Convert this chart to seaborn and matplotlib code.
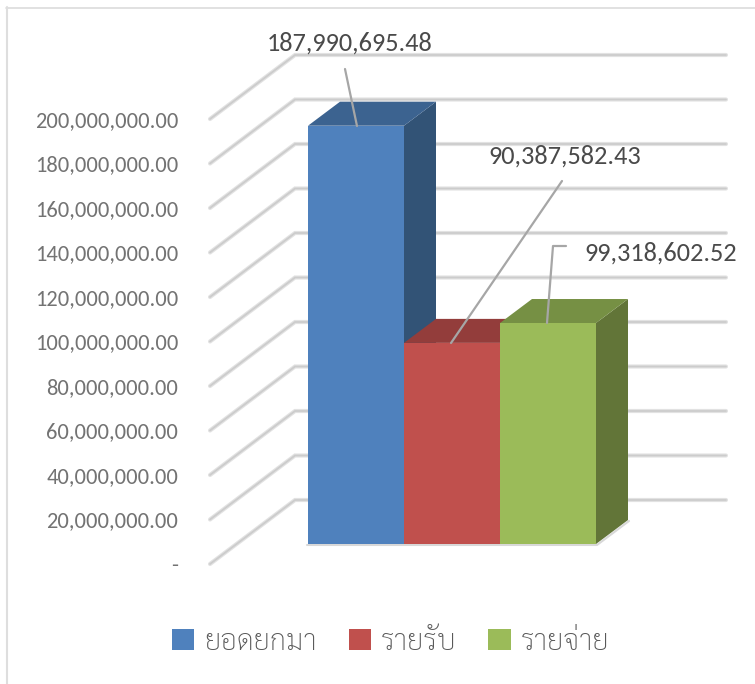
"""Fake-3D Thai column chart: brought forward, income, expense."""
import matplotlib
matplotlib.use('Agg')
import matplotlib.pyplot as plt
from matplotlib.patches import Patch, Polygon
from matplotlib.lines import Line2D
import pandas as pd
import seaborn as sns

categories = ['ยอดยกมา', 'รายรับ', 'รายจ่าย']
values = [187990695.48, 90387582.43, 99318602.52]
tick_values = [0, 20e6, 40e6, 60e6, 80e6, 100e6, 120e6, 140e6, 160e6, 180e6, 200e6]
tick_labels = ['-', '20,000,000.00', '40,000,000.00', '60,000,000.00', '80,000,000.00',
               '100,000,000.00', '120,000,000.00', '140,000,000.00', '160,000,000.00',
               '180,000,000.00', '200,000,000.00']
value_labels = ['187,990,695.48', '90,387,582.43', '99,318,602.52']
front_colors = ['#4f81bd', '#c0504d', '#9bbb59']
top_colors = ['#3c6390', '#933d3b', '#769044']
side_colors = ['#325376', '#7a3331', '#627538']

W, H = 755, 684
PX_PER_CAT = 96.0
PX_PER_UNIT = 445.0 / 200e6
BASE_X, BASE_Y = 308.0, 544.0

sns.set_theme(style='white')
plt.rcParams['font.family'] = ['Carlito', 'Sarabun', 'DejaVu Sans']


def xd(px):
    return -0.5 + (px - BASE_X) / PX_PER_CAT


def yd(px):
    return (BASE_Y - px) / PX_PER_UNIT


fig = plt.figure(figsize=(W / 100, H / 100), dpi=100)
ax = fig.add_axes([0, 0, 1, 1])

df = pd.DataFrame({'cat': categories, 'val': values})
sns.barplot(data=df, x='cat', y='val', hue='cat', palette=front_colors, width=1.0,
            saturation=1, legend=False, ax=ax, zorder=5, linewidth=0, edgecolor='none')
ax.set_xlim(xd(0), xd(W))
ax.set_ylim(yd(H), yd(0))
ax.axis('off')

# chart frame
ax.plot([xd(6), xd(W)], [yd(7.5), yd(7.5)], color='#dcdcdc', lw=1.2)
ax.plot([xd(7), xd(7)], [yd(7), yd(H)], color='#dedede', lw=1.5)

# walls: diagonal floor lines and back gridlines
wall_dx = 85 / PX_PER_CAT
wall_dy = 64 / PX_PER_UNIT
for v, lab in zip(tick_values, tick_labels):
    y0 = v + yd(564)
    x0 = xd(210)
    xs = [x0, x0 + wall_dx, xd(726)]
    ys = [y0, y0 + wall_dy, y0 + wall_dy]
    ax.plot(xs, ys, color='#e2e2e2', lw=3.0, solid_capstyle='round', solid_joinstyle='miter', zorder=1)
    ax.plot(xs, ys, color='#cccccc', lw=1.3, solid_capstyle='round', solid_joinstyle='miter', zorder=1.1)
    ax.text(xd(178), y0, lab, ha='right', va='center_baseline',
            fontsize=16.2, color='#737373')

# soft shadow along the foot of the columns
ax.add_line(Line2D([xd(307), xd(597), xd(629)], [yd(545), yd(545), yd(521)],
                   color='#d8d8d8', lw=1.5, zorder=2.5))

# depth faces of the columns
dx = 32 / PX_PER_CAT
dy = 24 / PX_PER_UNIT
for i, v in enumerate(values):
    l, r = i - 0.5, i + 0.5
    ax.add_patch(Polygon([(l, v), (r, v), (r + dx, v + dy), (l + dx, v + dy)],
                         closed=True, fc=top_colors[i], ec='none', zorder=4))
    ax.add_patch(Polygon([(r, 0), (r, v), (r + dx, v + dy), (r + dx, dy)],
                         closed=True, fc=side_colors[i], ec='none', zorder=3 + (2 - i) * 0.1))

# leader lines from the labels down to the tops of the columns
leaders = [([345, 357], [69, 126]), ([562, 451], [181, 343]), ([566, 553, 547], [246, 246, 323])]
for xs, ys in leaders:
    ax.add_line(Line2D([xd(p) for p in xs], [yd(p) for p in ys], color='#a6a6a6', lw=1.6, zorder=6))

label_pos = [(350, 41), (565, 154), (661, 251)]
for (px, py), s in zip(label_pos, value_labels):
    ax.text(xd(px), yd(py), s, ha='center', va='center_baseline', fontsize=19, color='#4a4a4a', zorder=7)

handles = [Patch(fc=c, ec='none') for c in front_colors]
ax.legend(handles, categories, loc='center', bbox_to_anchor=(390.5 / W, 1 - 642 / H), ncol=3,
          frameon=False, labelcolor='#595959', handlelength=0.76, handleheight=0.76,
          columnspacing=1.1, handletextpad=0.34,
          prop={'family': ['Sarabun', 'DejaVu Sans'], 'weight': 'light', 'size': 21})

fig.savefig('out.png', dpi=100)
